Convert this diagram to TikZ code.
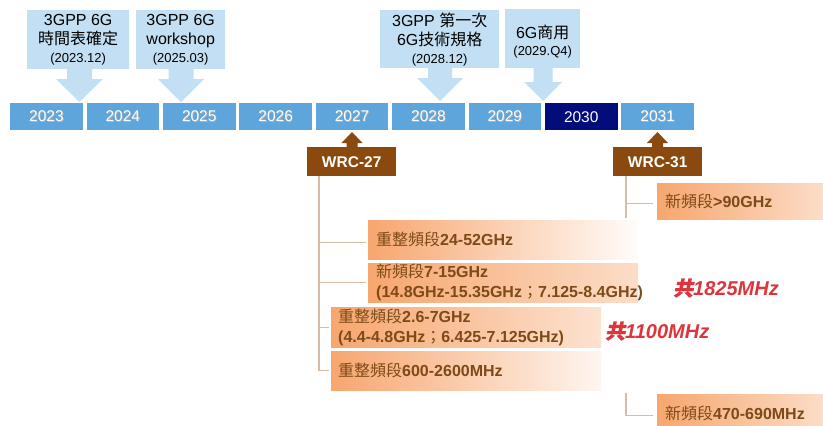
\documentclass[tikz,border=0pt]{standalone}
\usepackage{fontspec}
\setmainfont{Liberation Sans}
\newfontfamily\cjk{Noto Sans CJK TC}
\newfontfamily\cjkred[FakeSlant=0.2,FakeBold=1.5]{Noto Sans CJK TC}
\usetikzlibrary{backgrounds,calc}
\definecolor{yrblue}{RGB}{93,165,219}
\definecolor{yrnavy}{RGB}{2,12,122}
\definecolor{callblue}{RGB}{195,223,243}
\definecolor{wrcbrown}{RGB}{138,74,15}
\definecolor{treetan}{RGB}{214,188,160}
\definecolor{orF}{RGB}{247,166,110}
\definecolor{txtbrown}{RGB}{125,74,24}
\definecolor{redtxt}{RGB}{222,52,60}
\newcommand\zh[1]{{\mdseries\cjk #1}}
\newcommand\yrtext[1]{\makebox[0pt][l]{\hspace{0.7pt}\raisebox{-0.7pt}{\color{black!30}#1}}#1}
\newcommand\smallln[1]{{\fontsize{13}{15}\selectfont #1}}
\begin{document}
\begin{tikzpicture}[x=1pt,y=-1pt,
  yearbox/.style={fill=yrblue, text=white, minimum width=72.5pt, minimum height=27pt,
    inner sep=0pt, anchor=north west, font=\fontsize{15.5}{18}\selectfont},
  callbox/.style={fill=callblue, inner sep=0pt, anchor=north west, align=center,
    font=\fontsize{16}{19}\selectfont},
  wrcbox/.style={fill=wrcbrown, text=white, inner sep=0pt, anchor=north west,
    minimum width=89pt, minimum height=29pt, font=\bfseries\fontsize{15.5}{18}\selectfont},
  gbox/.style={anchor=north west, inner xsep=8pt, inner ysep=0pt, text=txtbrown,
    align=left, font=\bfseries\fontsize{16}{20}\selectfont,
    preaction={draw=white, fill=white, line width=5pt},
    path picture={\shade[left color=orF, right color=white]
      (path picture bounding box.north west) rectangle
      ([xshift=270pt]path picture bounding box.south west);}},
  tree/.style={draw=treetan, line width=1.4pt},
  redlbl/.style={text=redtxt, inner sep=0pt, anchor=west,
    font=\bfseries\itshape\fontsize{20}{24}\selectfont}
]
\useasboundingbox (0,0) rectangle (823,426);

% year boxes
\foreach \i/\yr in {0/2023,1/2024,2/2025,3/2026,4/2027,5/2028,6/2029,8/2031}
  \node[yearbox] (y\yr) at ({10+76.4*\i},103) {\yrtext{\yr}};
\node[yearbox, fill=yrnavy] (y2030) at ({10+76.4*7},103) {2030};

% callouts
\node[callbox, minimum width=102pt, minimum height=59pt] (c1) at (27,10)
  {3GPP 6G\\\zh{時間表確定}\\[-1pt]\smallln{(2023.12)}};
\node[callbox, minimum width=89pt, minimum height=59pt] (c2) at (136,10)
  {3GPP 6G\\workshop\\[-1pt]\smallln{(2025.03)}};
\node[callbox, minimum width=119pt, minimum height=58pt] (c3) at (380,10)
  {3GPP \zh{第一次}\\6G\zh{技術規格}\\[-1pt]\smallln{(2028.12)}};
\node[callbox, minimum width=75pt, minimum height=59pt] (c4) at (505,9)
  {\rule{0pt}{19pt}6G\zh{商用}\\[-2pt]\smallln{(2029.Q4)}};

% callout block arrows
\fill[callblue] (67,68) -- (92,68) -- (92,79) -- (103,79) -- (79.5,102) -- (56,79) -- (67,79) -- cycle;
\fill[callblue] (168.5,68) -- (193.5,68) -- (193.5,79) -- (204,79) -- (181,102) -- (158,79) -- (168.5,79) -- cycle;
\fill[callblue] (428,67) -- (452,67) -- (452,78) -- (463,78) -- (440,101) -- (417,78) -- (428,78) -- cycle;
\fill[callblue] (533.5,67) -- (552.5,67) -- (552.5,82) -- (562,82) -- (543,101) -- (524,82) -- (533.5,82) -- cycle;

% WRC boxes and up arrows
\node[wrcbox] (w27) at (307,147) {WRC-27};
\node[wrcbox] (w31) at (613,147) {WRC-31};
\fill[wrcbrown] (346.5,148) -- (346.5,143) -- (341.5,143) -- (352,132) -- (362.5,143) -- (357.5,143) -- (357.5,148) -- cycle;
\fill[wrcbrown] (652,148) -- (652,143) -- (647,143) -- (657.5,132) -- (668,143) -- (663,143) -- (663,148) -- cycle;

% gradient boxes
\node[gbox, text width=263pt, minimum height=39pt] (b2452) at (368,220)
  {\zh{重整頻段}24-52GHz};
\node[gbox, text width=418pt, minimum height=39pt] (b715) at (368,263)
  {\zh{新頻段}7-15GHz\\(14.8GHz-15.35GHz\zh{；}7.125-8.4GHz)};
\node[gbox, inner xsep=7pt, text width=388pt, minimum height=40pt] (b267) at (331,307)
  {\zh{重整頻段}2.6-7GHz\\(4.4-4.8GHz\zh{；}6.425-7.125GHz)};
\node[gbox, inner xsep=7pt, text width=288pt, minimum height=39pt] (b600) at (331,351)
  {\zh{重整頻段}600-2600MHz};
\node[gbox, text width=154pt, minimum height=36pt] (b90) at (657,183)
  {\zh{新頻段}>90GHz};
\node[gbox, text width=154pt, minimum height=38pt] (b470) at (657,394)
  {\zh{新頻段}470-690MHz};

% red totals
\node[redlbl] (t1825) at (673,288) {{\cjkred 共}1825MHz};
\node[redlbl] (t1100) at (605,331) {{\cjkred 共}1100MHz};

% tree connectors (behind the boxes)
\begin{scope}[on background layer]
  \fill[white] (0,0) rectangle (823,426);
  \coordinate (t27) at ([xshift=12pt]w27.south west);
  \coordinate (t31) at ([xshift=13pt]w31.south west);
  \draw[tree] (t27) |- (b600.west);
  \draw[tree] ([yshift=-3pt]b2452.west) -| (t27);
  \draw[tree] (t27 |- b715.west) -- (b715.west);
  \draw[tree] (t27 |- b267.west) -- (b267.west);
  \draw[tree] (t31) |- ([xshift=-4pt,yshift=-2pt]b470.west);
  \draw[tree] ([yshift=-2pt]t31 |- b90.west) -- ([xshift=-4pt,yshift=-2pt]b90.west);
\end{scope}
\end{tikzpicture}
\end{document}
